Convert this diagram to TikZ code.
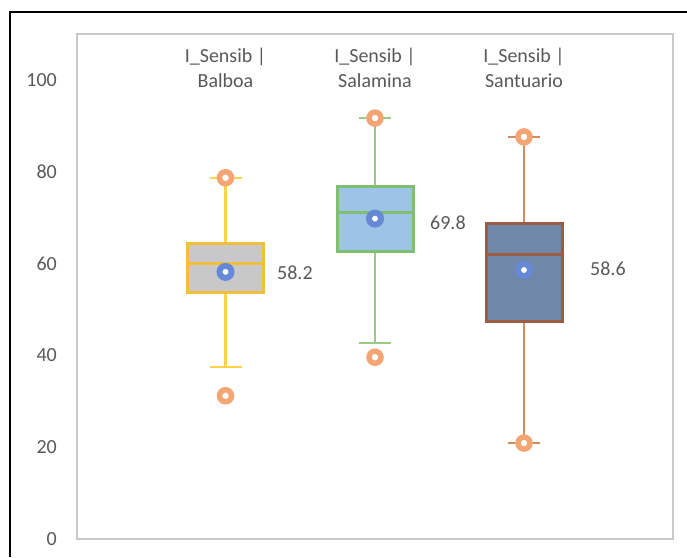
\documentclass[tikz,border=0pt]{standalone}
\usepackage{fontspec}
\setmainfont{Carlito}
\usetikzlibrary{positioning}

\definecolor{axisgray}{HTML}{595959}
\definecolor{plotgray}{HTML}{C9C9C9}
\definecolor{balfill}{HTML}{C8C8C8}
\definecolor{balline}{HTML}{F2BF3A}
\definecolor{balwhisk}{HTML}{FFD24D}
\definecolor{salfill}{HTML}{9DC3E6}
\definecolor{salline}{HTML}{7FBF6E}
\definecolor{salwhisk}{HTML}{98CB84}
\definecolor{sanfill}{HTML}{6F87A9}
\definecolor{sanline}{HTML}{9C5D46}
\definecolor{sanwhisk}{HTML}{D68C61}
\definecolor{outlorange}{HTML}{F4A574}
\definecolor{meanblue}{HTML}{6589D6}

\begin{document}
\begin{tikzpicture}[x=1pt,y=1pt,
  txt/.style={font=\fontsize{20}{25}\selectfont,text=axisgray,inner sep=0pt},
  whisk/.style={line width=2.5pt},
  boxline/.style={line width=3pt},
  outl/.style={circle,draw=outlorange,fill=white,line width=5.5pt,minimum size=12pt,inner sep=0pt},
  meanpt/.style={circle,draw=meanblue,fill=white,line width=6pt,minimum size=12pt,inner sep=0pt}]

  \useasboundingbox (0,0) rectangle (687,557);
  \def\hw{38}\def\cw{16}

  % frame and plot area
  \draw[line width=2pt] (10,0) -- (10,545) -- (687,545);
  \draw[plotgray,line width=1.5pt] (77,18) rectangle (673,523);

  % titles
  \node[txt,align=center] (Tba) at (225.5,489.5) {I\_Sensib |\\Balboa};
  \node[txt,align=center] (Tsa) at (375,489.5) {I\_Sensib |\\Salamina};
  \node[txt,align=center] (Tsu) at (524,489.5) {I\_Sensib |\\Santuario};

  \begin{scope}[yshift=18pt,y=4.59pt]

  % value axis
  \node[txt,anchor=east] (v0) at (57,0) {0};
  \node[txt,anchor=east] (v20) at (57,20) {20};
  \node[txt,anchor=east] (v40) at (57,40) {40};
  \node[txt,anchor=east] (v60) at (57,60) {60};
  \node[txt,anchor=east] (v80) at (57,80) {80};
  \node[txt,anchor=east] (v100) at (57,100) {100};

  % Balboa
  \coordinate (Ba-lo) at (225.5,37.5);
  \coordinate (Ba-hi) at (225.5,78.7);
  \draw[whisk,balwhisk] (225.5,53.6) -- (Ba-lo);
  \draw[whisk,balwhisk] (225.5,64.3) -- (Ba-hi);
  \draw[whisk,balwhisk] ([xshift=-\cw]Ba-lo) -- ([xshift=\cw]Ba-lo);
  \draw[whisk,balwhisk] ([xshift=-\cw]Ba-hi) -- ([xshift=\cw]Ba-hi);
  \draw[boxline,draw=balline,fill=balfill] (225.5-\hw,53.6) rectangle (225.5+\hw,64.3);
  \draw[boxline,balline] (225.5-\hw,60.1) -- (225.5+\hw,60.1);
  \node[outl] (Ba-o1) at (Ba-hi) {};
  \node[outl] (Ba-o2) at (225.5,31.2) {};
  \node[meanpt] (Ba-m) at (225.5,58.2) {};
  \node[txt,anchor=west] (Ba-v) at (277,57.9) {58.2};

  % Salamina
  \coordinate (Sa-lo) at (375,42.7);
  \coordinate (Sa-hi) at (375,91.7);
  \draw[whisk,salwhisk] (375,62.7) -- (Sa-lo);
  \draw[whisk,salwhisk] (375,76.9) -- (Sa-hi);
  \draw[whisk,salwhisk] ([xshift=-\cw]Sa-lo) -- ([xshift=\cw]Sa-lo);
  \draw[whisk,salwhisk] ([xshift=-\cw]Sa-hi) -- ([xshift=\cw]Sa-hi);
  \draw[boxline,draw=salline,fill=salfill] (375-\hw,62.7) rectangle (375+\hw,76.9);
  \draw[boxline,salline] (375-\hw,71.2) -- (375+\hw,71.2);
  \node[outl] (Sa-o1) at (Sa-hi) {};
  \node[outl] (Sa-o2) at (375,39.6) {};
  \node[meanpt] (Sa-m) at (375,69.8) {};
  \node[txt,anchor=west] (Sa-v) at (430,68.8) {69.8};

  % Santuario
  \coordinate (Su-lo) at (524,20.9);
  \coordinate (Su-hi) at (524,87.6);
  \draw[whisk,sanwhisk] (524,47.3) -- (Su-lo);
  \draw[whisk,sanwhisk] (524,68.8) -- (Su-hi);
  \draw[whisk,sanwhisk] ([xshift=-\cw]Su-lo) -- ([xshift=\cw]Su-lo);
  \draw[whisk,sanwhisk] ([xshift=-\cw]Su-hi) -- ([xshift=\cw]Su-hi);
  \draw[boxline,draw=sanline,fill=sanfill] (524-\hw,47.3) rectangle (524+\hw,68.8);
  \draw[boxline,sanline] (524-\hw,61.9) -- (524+\hw,61.9);
  \node[outl] (Su-o1) at (Su-hi) {};
  \node[outl] (Su-o2) at (Su-lo) {};
  \node[meanpt] (Su-m) at (524,58.6) {};
  \node[txt,anchor=west] (Su-v) at (590,58.9) {58.6};

  \end{scope}

\end{tikzpicture}
\end{document}
